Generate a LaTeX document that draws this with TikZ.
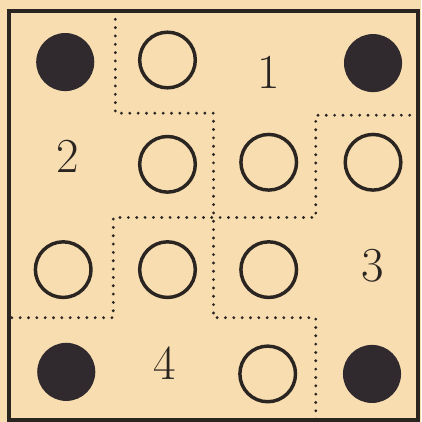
\documentclass[tikz,border=0pt]{standalone}
\usetikzlibrary{positioning}
\definecolor{paper}{HTML}{F7DDB0}
\definecolor{ink}{HTML}{2B2522}
\definecolor{blot}{HTML}{302A2E}

\begin{document}
\begin{tikzpicture}[
  x=2.5cm, y=2.5cm,
  every node/.style={text=ink, font=\fontsize{34}{34}\selectfont},
  hole/.style={draw=ink, line width=2.4pt, circle, minimum size=1.36cm, inner sep=0pt},
  peg/.style={fill=blot, circle, minimum size=1.42cm, inner sep=0pt},
  cut/.style={ink, line width=2.2pt, line cap=round, dash pattern=on 0pt off 5.8pt},
]

% Background (paper)
\fill[paper] (-0.088,-0.02) rectangle (4.03,4.107);
\useasboundingbox (-0.088,-0.02) rectangle (4.03,4.107);

% Frame
\draw[ink, line width=2.2pt] (0,0) rectangle (4,4);

% Corner pegs
\node[peg] (p00) at (0.55,3.5) {};
\node[peg] (p03) at (3.56,3.49) {};
\node[peg] (p30) at (0.56,0.47) {};
\node[peg] (p33) at (3.55,0.45) {};

% Open holes
\node[hole] (h01) at (1.55,3.52) {};
\node[hole] (h11) at (1.55,2.5) {};
\node[hole] (h12) at (2.54,2.52) {};
\node[hole] (h13) at (3.56,2.52) {};
\node[hole] (h20) at (0.53,1.47) {};
\node[hole] (h21) at (1.55,1.47) {};
\node[hole] (h22) at (2.54,1.47) {};
\node[hole] (h32) at (2.53,0.45) {};

% Piece numbers
\node (n1) at (2.54,3.4) {1};
\node (n2) at (0.57,2.58) {2};
\node (n3) at (3.56,1.51) {3};
\node (n4) at (1.52,0.56) {4};

% Dotted cuts between the four pieces
\draw[cut] (1.04,4) -- (1.04,3) -- (2,3) -- (2,1) -- (3,1) -- (3,0);
\draw[cut] (4,2.98) -- (3,2.98) -- (3,1.98) -- (1.02,1.98) -- (1.02,1) -- (0,1);

\end{tikzpicture}
\end{document}
